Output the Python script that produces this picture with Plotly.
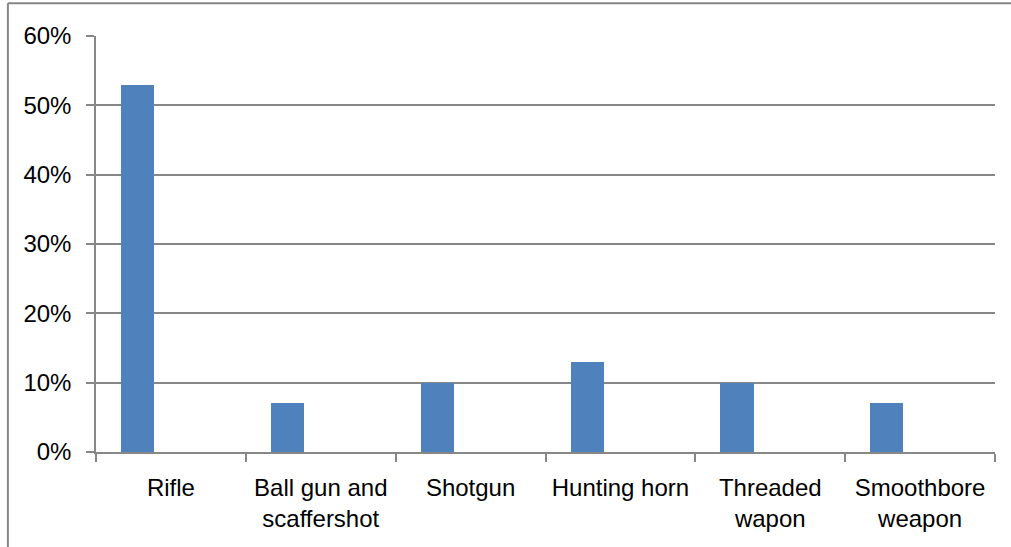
import plotly.graph_objects as go

# Share of respondents by type of hunting weapon
categories = ["Rifle", "Ball gun and<br>scaffershot", "Shotgun", "Hunting horn",
              "Threaded<br>wapon", "Smoothbore<br>weapon"]
shares = [53, 7, 10, 13, 10, 7]
y_ticks = [0, 10, 20, 30, 40, 50, 60]
y_tick_labels = [f"{v}%" for v in y_ticks]

GRID = "#878787"
BAR = "#4F81BD"
FONT = dict(family="Liberation Sans, Arial, sans-serif", size=24, color="#000000")

fig = go.Figure(
    go.Bar(
        x=categories,
        y=shares,
        marker=dict(color=BAR, line=dict(width=0)),
        width=0.222,
        offset=-0.333,
        hoverinfo="x+y",
    )
)

fig.update_layout(
    width=1011,
    height=547,
    margin=dict(l=96, r=16, t=36, b=95),
    paper_bgcolor="#ffffff",
    plot_bgcolor="#ffffff",
    font=FONT,
    showlegend=False,
    bargap=0,
    xaxis=dict(
        type="category",
        range=[-0.5, 5.5],
        tickson="boundaries",
        ticks="outside",
        ticklen=8,
        tickwidth=1.5,
        tickcolor=GRID,
        ticklabelstandoff=13,
        showline=True,
        linecolor=GRID,
        linewidth=1.5,
        showgrid=False,
        tickfont=FONT,
        fixedrange=True,
    ),
    yaxis=dict(
        range=[0, 60],
        tickvals=y_ticks,
        ticktext=y_tick_labels,
        ticks="outside",
        ticklen=8,
        tickwidth=1.5,
        tickcolor=GRID,
        ticklabelstandoff=10,
        showline=True,
        linecolor=GRID,
        linewidth=1.5,
        showgrid=True,
        gridcolor=GRID,
        gridwidth=1.5,
        zeroline=False,
        tickfont=FONT,
        fixedrange=True,
    ),
    shapes=[
        # chart frame (top and left edges)
        dict(type="line", xref="paper", yref="paper",
             x0=-0.098, x1=1.02, y0=1.0785, y1=1.0785,
             line=dict(color=GRID, width=2)),
        dict(type="line", xref="paper", yref="paper",
             x0=-0.098, x1=-0.098, y0=1.0785, y1=-0.24,
             line=dict(color=GRID, width=2)),
    ],
)

fig.write_html("out.html")
